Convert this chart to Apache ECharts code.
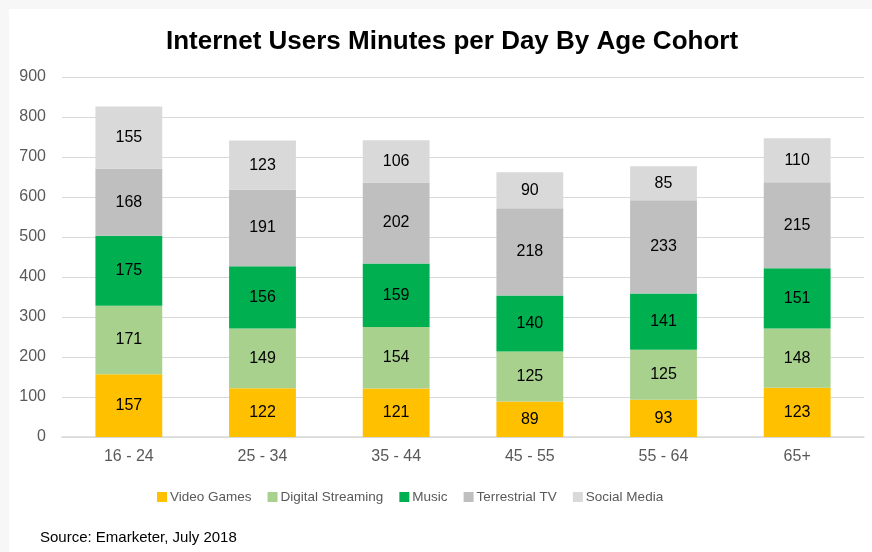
<!DOCTYPE html>
<html><head><meta charset="utf-8">
<script src="https://cdn.jsdelivr.net/npm/echarts@6/dist/echarts.min.js"></script>
<style>html,body{margin:0;padding:0;background:#fff}#c{width:872px;height:552px}</style>
</head><body><div id="c"></div>
<script>
const categories = ['16 - 24','25 - 34','35 - 44','45 - 55','55 - 64','65+'];
const videoGames = [157,122,121,89,93,123];
const digitalStreaming = [171,149,154,125,125,148];
const music = [175,156,159,140,141,151];
const terrestrialTV = [168,191,202,218,233,215];
const socialMedia = [155,123,106,90,85,110];
const seriesNames = ['Video Games','Digital Streaming','Music','Terrestrial TV','Social Media'];
const seriesData = [videoGames,digitalStreaming,music,terrestrialTV,socialMedia];
const colors = ['#FFC000','#A9D18E','#00B050','#BFBFBF','#D9D9D9'];
const font = 'Liberation Sans, Arial, sans-serif';
const chart = echarts.init(document.getElementById('c'));
chart.setOption({
  animation:false,
  graphic:[
    {type:'rect',shape:{x:0,y:0,width:872,height:552},style:{fill:'#f7f7f7'},z:-10},
    {type:'rect',shape:{x:9,y:9,width:863,height:543},style:{fill:'#ffffff'},z:-9},
    {type:'text',left:40,top:530,style:{text:'Source: Emarketer, July 2018',font:'15px '+font,fill:'#000'}}
  ],
  title:{text:'Internet Users Minutes per Day By Age Cohort',left:447,textAlign:'center',top:24,
    textStyle:{fontFamily:font,fontWeight:'bold',fontSize:26,color:'#000'}},
  legend:{bottom:43,left:152,itemWidth:10,itemHeight:10,itemGap:16,icon:'rect',
    textStyle:{fontFamily:font,fontSize:13.5,color:'#595959',padding:[0,0,0,-2]},data:seriesNames},
  grid:{left:62,right:8,top:77,bottom:115},
  xAxis:{type:'category',data:categories,axisTick:{show:false},
    axisLine:{lineStyle:{color:'#d9d9d9',width:1.5}},
    axisLabel:{fontFamily:font,fontSize:16,color:'#595959',margin:12}},
  yAxis:{type:'value',min:0,max:900,interval:100,axisLine:{show:false},axisTick:{show:false},
    splitLine:{lineStyle:{color:'#d9d9d9'}},
    axisLabel:{fontFamily:font,fontSize:16,color:'#595959',margin:16}},
  series:seriesData.map((d,i)=>({name:seriesNames[i],type:'bar',stack:'a',data:d,barWidth:'50%',
    itemStyle:{color:colors[i]},
    label:{show:true,position:'inside',fontFamily:font,fontSize:16,color:'#000'}}))
});
</script></body></html>
